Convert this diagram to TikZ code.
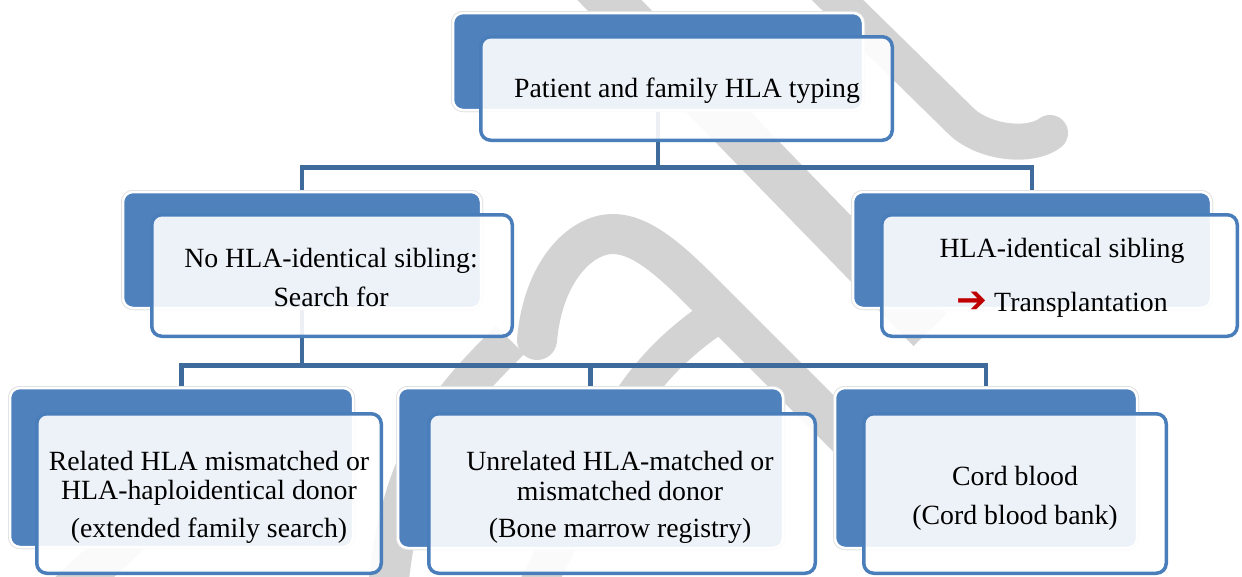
\documentclass[tikz,border=0pt]{standalone}
\usepackage{fontspec}
\setmainfont{Liberation Serif}
\newfontfamily\symfont{DejaVu Sans}
\definecolor{boxblue}{HTML}{4F81BD}
\definecolor{frameblue}{HTML}{4A7EBB}
\definecolor{linkblue}{HTML}{3F6B9C}
\definecolor{wmgray}{HTML}{D3D3D3}
\definecolor{arrowred}{HTML}{C00000}
\tikzset{
  backbox/.style={rectangle, rounded corners=10pt, fill=boxblue, draw=white,
    line width=2.5pt, preaction={draw=black!12, line width=4pt}, inner sep=0pt},
  frontbox/.style={rectangle, rounded corners=10pt, fill=white, fill opacity=0.9,
    draw=frameblue, draw opacity=1, line width=3.5pt, inner sep=0pt},
  line/.style={anchor=base, inner sep=0pt, font=\fontsize{27.8}{30}\selectfont},
  link/.style={draw=linkblue, line width=4.5pt},
  wm/.style={draw=wmgray},
}
\begin{document}
\begin{tikzpicture}[x=1pt,y=-1pt]
\useasboundingbox (0,0) rectangle (1242,576);
\clip (0,0) rectangle (1242,576);
\fill[white] (0,0) rectangle (1242,576);

% faint background watermark strokes
\draw[wm, line width=36pt, line cap=round] (812,-25) -- (962,122)
  .. controls (985,143) and (1030,148) .. (1050,133);
\draw[wm, line width=46pt] (590,-20) -- (930,330);
\draw[wm, line width=40pt, line cap=round] (537,340)
  .. controls (543,272) and (580,234) .. (613,234)
  .. controls (640,234) and (668,258) .. (700,290) -- (850,440);
\draw[wm, line width=36pt] (718,315) .. controls (680,340) and (650,370) .. (628,405) -- (535,590);
\draw[wm, line width=40pt] (510,340) .. controls (455,395) and (400,450) .. (388,590);
\draw[wm, line width=40pt] (60,600) -- (200,470);

% back panels
\path (658,61.5) node[backbox, minimum width=410pt, minimum height=97pt] (bt) {};
\path (302,250) node[backbox, minimum width=358pt, minimum height=116pt] (bl) {};
\path (1032,250) node[backbox, minimum width=358pt, minimum height=116pt] (br) {};
\path (181.5,467.5) node[backbox, minimum width=343pt, minimum height=159pt] (b1) {};
\path (590.5,468) node[backbox, minimum width=385pt, minimum height=160pt] (b2) {};
\path (986,468) node[backbox, minimum width=302pt, minimum height=160pt] (b3) {};

% connectors between the panels
\draw[link] (bt.south) -- ++(0,56) -| (bl.north);
\draw[link] (bt.south) ++(0,56) -| (br.north);
\draw[link] (bl.south) -- ++(0,56) -| (b1.north);
\draw[link] (bl.south) ++(0,56) -| (b2.north);
\draw[link] (bl.south) ++(0,56) -| (b3.north);

% back panels again, over the connector ends
\path (658,61.5) node[backbox, minimum width=410pt, minimum height=97pt] {};
\path (302,250) node[backbox, minimum width=358pt, minimum height=116pt] {};
\path (1032,250) node[backbox, minimum width=358pt, minimum height=116pt] {};
\path (181.5,467.5) node[backbox, minimum width=343pt, minimum height=159pt] {};
\path (590.5,468) node[backbox, minimum width=385pt, minimum height=160pt] {};
\path (986,468) node[backbox, minimum width=302pt, minimum height=160pt] {};

% front panels
\path (686.5,88.5) node[frontbox, minimum width=411.5pt, minimum height=103.5pt] (ft) {};
\path (332,275.5) node[frontbox, minimum width=360.5pt, minimum height=121.5pt] (fl) {};
\path (1059.5,275.5) node[frontbox, minimum width=355.5pt, minimum height=121.5pt] (fr) {};
\path (209,493.5) node[frontbox, minimum width=344.5pt, minimum height=159.5pt] (f1) {};
\path (622,493.5) node[frontbox, minimum width=386.5pt, minimum height=159.5pt] (f2) {};
\path (1015,493.5) node[frontbox, minimum width=302.5pt, minimum height=159.5pt] (f3) {};

% texts
\node[line] (ta) at (687,97) {Patient and family HLA typing};
\node[line] (tb1) at (331,267) {No HLA-identical sibling:};
\node[line] (tb2) at (331,306) {Search for};
\node[line] (tc1) at (1062,257) {HLA-identical sibling};
\node[line] (tc2) at (1062,311) {\raisebox{-1.5pt}{\fontsize{37}{37}\selectfont\symfont\color{arrowred}\char"2794}\ Transplantation};
\node[line] (td1) at (209,470) {Related HLA mismatched or};
\node[line] (td2) at (209,499) {HLA-haploidentical donor};
\node[line] (td3) at (209,537) {(extended family search)};
\node[line] (te1) at (620,470) {Unrelated HLA-matched or};
\node[line] (te2) at (620,500) {mismatched donor};
\node[line] (te3) at (620,537) {(Bone marrow registry)};
\node[line] (tf1) at (1015,485) {Cord blood};
\node[line] (tf2) at (1015,524) {(Cord blood bank)};
\end{tikzpicture}
\end{document}
